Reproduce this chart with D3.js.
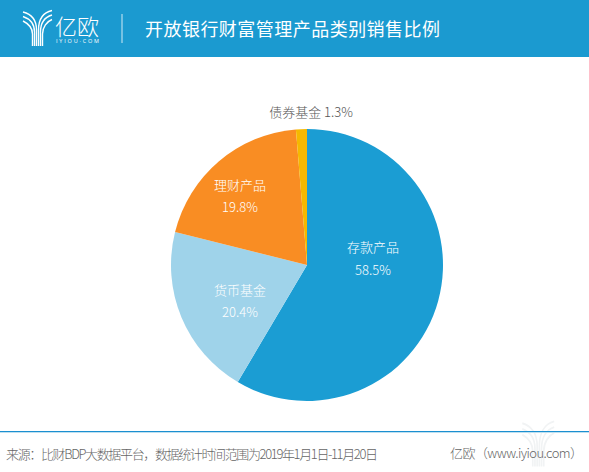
<!doctype html>
<html>
<head>
<meta charset="utf-8">
<script src="https://d3js.org/d3.v7.min.js"></script>
<style>
html, body { margin: 0; padding: 0; background: #fff; }
text { font-family: "Noto Sans CJK SC", "Open Sans", sans-serif; font-weight: 300; }
</style>
</head>
<body>
<script>
var categories = ["存款产品", "货币基金", "理财产品", "债券基金"];
var values = [58.5, 20.4, 19.8, 1.3];
var colors = ["#1b9dd3", "#9fd3ea", "#f98d23", "#f5b800"];
var title = "开放银行财富管理产品类别销售比例";
var source = "来源：比财BDP大数据平台，数据统计时间范围为2019年1月1日-11月20日";
var brand = "亿欧（www.iyiou.com）";

var width = 589, height = 472;
var cx = 307, cy = 265, radius = 136;
// label spots relative to pie centre: x, name baseline, value baseline
var labelSpots = [[66, -13, 10], [-67, 30, 52], [-67, -75, -53]];

var svg = d3.select("body").append("svg")
    .attr("width", width).attr("height", height)
    .style("display", "block");

// the yiou fan logo, drawn at its header position and moved for the watermark
function drawLogo(transform, color, sw) {
  var logo = svg.append("g").attr("transform", transform)
      .attr("fill", "none").attr("stroke", color).attr("stroke-width", sw);
  logo.append("path").attr("d", "M23 12 C31 14 36.5 20 36.5 30 V46");
  logo.append("path").attr("d", "M23 16.5 C29 18.5 34.5 23 34.5 32 V46");
  logo.append("path").attr("d", "M23 21 C27 23 32.5 27 32.5 34 V46");
  logo.append("path").attr("d", "M52 10.5 C43 12.5 38.5 20 38.5 30 V46");
  logo.append("path").attr("d", "M52 15 C45 17 40.5 23 40.5 32 V46");
  logo.append("path").attr("d", "M52 19.5 C47 21.5 42.5 27 42.5 34 V46");
}

// watermark goes under the footer line
drawLogo("translate(497,408) scale(1.1,1.27)", "#f1f3f4", 1.5);

// header band
svg.append("rect").attr("width", width).attr("height", 57).attr("fill", "#1b9ad0");
drawLogo("translate(0,0)", "#fff", 1.4);
svg.append("text").attr("x", 55).attr("y", 35).attr("font-size", 22).attr("fill", "#fff").text("亿欧");
svg.append("text").attr("x", 56).attr("y", 42.7).attr("font-size", 5.5).attr("fill", "#fff")
    .attr("textLength", 43).style("font-family", "Open Sans").style("font-weight", 400).text("IYIOU·COM");
svg.append("line").attr("x1", 122).attr("x2", 122).attr("y1", 14).attr("y2", 43)
    .attr("stroke", "#fff").attr("stroke-width", 0.8);
svg.append("text").attr("x", 145).attr("y", 36).attr("font-size", 18).attr("fill", "#fff")
    .style("font-weight", 400).attr("textLength", 295).text(title);

// pie
var pie = d3.pie().sort(null).startAngle(0).endAngle(2 * Math.PI);
var arc = d3.arc().innerRadius(0).outerRadius(radius);
var g = svg.append("g").attr("transform", "translate(" + cx + "," + cy + ")");
var slices = pie(values);
g.selectAll("path").data(slices).enter().append("path")
    .attr("d", arc)
    .attr("fill", function(d, i) { return colors[i]; });

// slice labels
labelSpots.forEach(function(s, i) {
  var t = g.append("text").attr("text-anchor", "middle").attr("font-size", 13).attr("fill", "#fff");
  t.append("tspan").attr("x", s[0]).attr("y", s[1]).text(categories[i]);
  t.append("tspan").attr("x", s[0]).attr("y", s[2]).text(values[i] + "%");
});
svg.append("text").attr("x", 311).attr("y", 117).attr("text-anchor", "middle")
    .attr("font-size", 13).attr("fill", "#555")
    .text(categories[3] + " " + values[3] + "%");

// footer
svg.append("line").attr("x1", 0).attr("x2", width).attr("y1", 431.5).attr("y2", 431.5)
    .attr("stroke", "#1b8fd0").attr("stroke-width", 1);
svg.append("line").attr("x1", 0).attr("x2", width).attr("y1", 432.5).attr("y2", 432.5)
    .attr("stroke", "#bfe0f0").attr("stroke-width", 1);
svg.append("text").attr("x", 6).attr("y", 459).attr("font-size", 13).attr("fill", "#666")
    .attr("textLength", 372).text(source);
svg.append("text").attr("x", 450).attr("y", 458).attr("font-size", 13).attr("fill", "#666")
    .attr("textLength", 133).text(brand);
</script>
</body>
</html>
